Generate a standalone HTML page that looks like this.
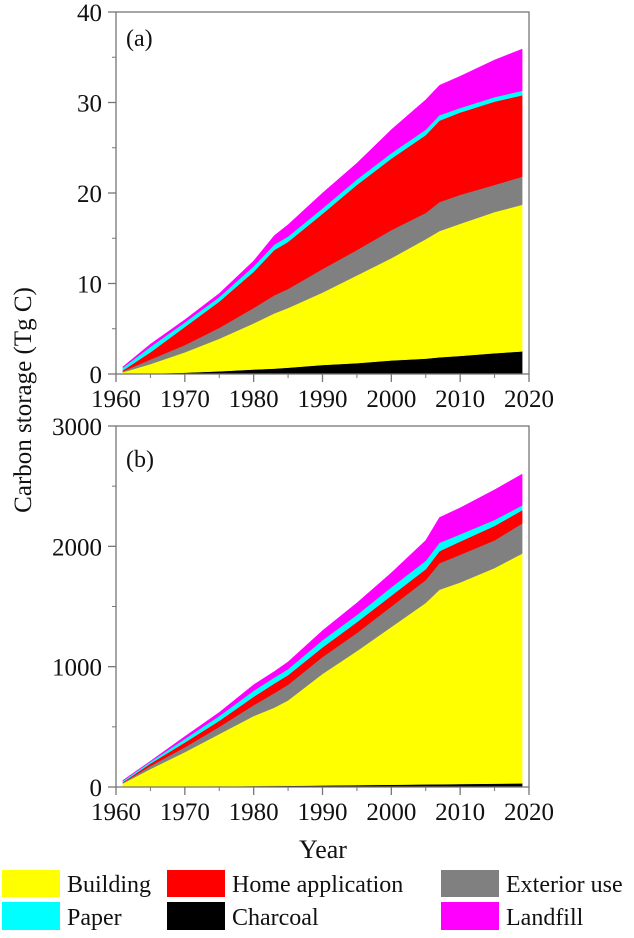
<!DOCTYPE html>
<html><head><meta charset="utf-8">
<style>
html,body{margin:0;padding:0;background:#fff;}
body{width:634px;height:933px;overflow:hidden;font-family:"Liberation Serif","Times New Roman","DejaVu Serif",serif;}
svg text{font-family:"Liberation Serif","Times New Roman","DejaVu Serif",serif;fill:#111;}
</style></head>
<body>
<svg id="chart" width="634" height="933" viewBox="0 0 634 933" xmlns="http://www.w3.org/2000/svg" font-family="Liberation Serif, Times New Roman, DejaVu Serif, serif">
<text x="0" y="0" font-size="25" text-anchor="middle" transform="translate(31,400) rotate(-90)">Carbon storage (Tg C)</text>
<text x="323" y="858" font-size="26" text-anchor="middle">Year</text>
<g>
<rect x="2" y="870" width="58" height="27" fill="#ffff00"/>
<text x="67" y="892" font-size="24">Building</text>
<rect x="167" y="870" width="58" height="27" fill="#ff0000"/>
<text x="232" y="892" font-size="24">Home application</text>
<rect x="441" y="870" width="58" height="27" fill="#808080"/>
<text x="506" y="892" font-size="24">Exterior use</text>
<rect x="2" y="902" width="58" height="28" fill="#00ffff"/>
<text x="67" y="925" font-size="24">Paper</text>
<rect x="167" y="902" width="58" height="28" fill="#000000"/>
<text x="232" y="925" font-size="24">Charcoal</text>
<rect x="441" y="902" width="58" height="28" fill="#ff00ff"/>
<text x="506" y="925" font-size="24">Landfill</text>
</g>
</svg>
<script>
const years = [1961,1965,1970,1975,1980,1983,1985,1990,1995,2000,2005,2007,2010,2015,2019];
const xTicks = [1960,1970,1980,1990,2000,2010,2020];
// Panel (a) layer amounts, Tg C
const charcoalA = [0,0.05,0.15,0.3,0.5,0.6,0.7,1.0,1.2,1.5,1.7,1.85,2.0,2.3,2.5];
const buildingA = [0.2,1.05,2.25,3.6,5.1,6.1,6.6,8.0,9.7,11.3,13.2,13.95,14.6,15.6,16.2];
const exteriorA = [0.1,0.5,0.8,1.2,1.7,2.0,2.1,2.6,2.8,3.1,2.9,3.2,3.2,3.0,3.1];
const homeA = [0.1,0.8,2.0,2.9,4.0,5.0,5.2,6.1,7.2,7.9,8.6,9.0,9.1,9.2,9.0];
const paperA = [0.3,0.6,0.5,0.5,0.6,0.6,0.6,0.6,0.6,0.6,0.6,0.6,0.5,0.5,0.5];
const landfillA = [0.1,0.3,0.3,0.4,0.6,1.0,1.3,1.7,1.8,2.6,3.3,3.3,3.5,4.1,4.6];
const yTicksA = [0,10,20,30,40];
// Panel (b) layer amounts
const charcoalB = [0,1,3,5,8,9,10,13,16,19,22,23,25,28,30];
const buildingB = [30,149,287,435,582,651,710,927,1114,1311,1508,1617,1675,1792,1910];
const exteriorB = [5,25,40,60,90,120,130,140,150,170,190,220,230,230,250];
const homeB = [5,20,40,50,70,80,80,80,90,90,90,100,110,120,110];
const paperB = [10,15,30,40,50,50,50,60,60,70,70,70,60,50,40];
const landfillB = [5,5,20,30,50,50,60,80,100,120,170,210,220,250,260];
const yTicksB = [0,1000,2000,3000];

const NS = "http://www.w3.org/2000/svg";
const svg = document.getElementById('chart');
function mk(tag, attrs, parent){const e=document.createElementNS(NS,tag);for(const k in attrs)e.setAttribute(k,attrs[k]);(parent||svg).appendChild(e);return e;}

function panel(cfg){
  const L=116,R=529,T=cfg.top,B=cfg.bottom;
  const xS=v=>L+(v-1960)/(2020-1960)*(R-L);
  const yS=v=>B-(v-0)/(cfg.ymax)*(B-T);
  const g=mk('g',{});
  
  
  let base=years.map(()=>0);
  cfg.layers.forEach(ly=>{
    const top=base.map((b,i)=>b+ly.vals[i]);
    let d='M'+years.map((y,i)=>xS(y).toFixed(2)+','+yS(top[i]).toFixed(2)).join('L');
    for(let i=years.length-1;i>=0;i--) d+='L'+xS(years[i]).toFixed(2)+','+yS(base[i]).toFixed(2);
    d+='Z';
    const p=mk('path',{d:d,fill:ly.color,stroke:ly.color,'stroke-width':0.5,'stroke-linejoin':'round'},g);
    
    
    base=top;
  });
  const ax='#777';
  const frame=mk('rect',{x:L,y:T,width:R-L,height:B-T,fill:'none',stroke:ax,'stroke-width':1.3},g);
  
  
  for(let k=0;k<cfg.yTicks.length;k++){
    const v=cfg.yTicks[k];
    mk('line',{x1:L-8,x2:L,y1:yS(v),y2:yS(v),stroke:ax,'stroke-width':1.3},g);
    if(k<cfg.yTicks.length-1){const m=(v+cfg.yTicks[k+1])/2;mk('line',{x1:L-4,x2:L,y1:yS(m),y2:yS(m),stroke:ax,'stroke-width':1},g);}
    const t=mk('text',{x:L-14,y:yS(v)+9,'font-size':25,'text-anchor':'end'},g);
    
    
    t.textContent=v;
  }
  for(let k=0;k<xTicks.length;k++){
    const v=xTicks[k];
    mk('line',{x1:xS(v),x2:xS(v),y1:B,y2:B+8,stroke:ax,'stroke-width':1.3},g);
    if(k<xTicks.length-1){mk('line',{x1:xS(v+5),x2:xS(v+5),y1:B,y2:B+4,stroke:ax,'stroke-width':1},g);}
    const t=mk('text',{x:xS(v),y:B+33,'font-size':25,'text-anchor':'middle'},g);
    
    
    t.textContent=v;
  }
  const lab=mk('text',{x:126,y:cfg.labelY,'font-size':24},g);
  
  
  lab.textContent=cfg.label;
}
panel({name:'panel-a',top:12,bottom:374,ymax:40,yTicks:yTicksA,label:'(a)',labelY:46,
  layers:[{key:'charcoal',vals:charcoalA,color:'#000000'},{key:'building',vals:buildingA,color:'#ffff00'},
  {key:'exterior-use',vals:exteriorA,color:'#808080'},{key:'home-application',vals:homeA,color:'#ff0000'},
  {key:'paper',vals:paperA,color:'#00ffff'},{key:'landfill',vals:landfillA,color:'#ff00ff'}]});
panel({name:'panel-b',top:426,bottom:787,ymax:3000,yTicks:yTicksB,label:'(b)',labelY:467,
  layers:[{key:'charcoal',vals:charcoalB,color:'#000000'},{key:'building',vals:buildingB,color:'#ffff00'},
  {key:'exterior-use',vals:exteriorB,color:'#808080'},{key:'home-application',vals:homeB,color:'#ff0000'},
  {key:'paper',vals:paperB,color:'#00ffff'},{key:'landfill',vals:landfillB,color:'#ff00ff'}]});
</script>
</body></html>
